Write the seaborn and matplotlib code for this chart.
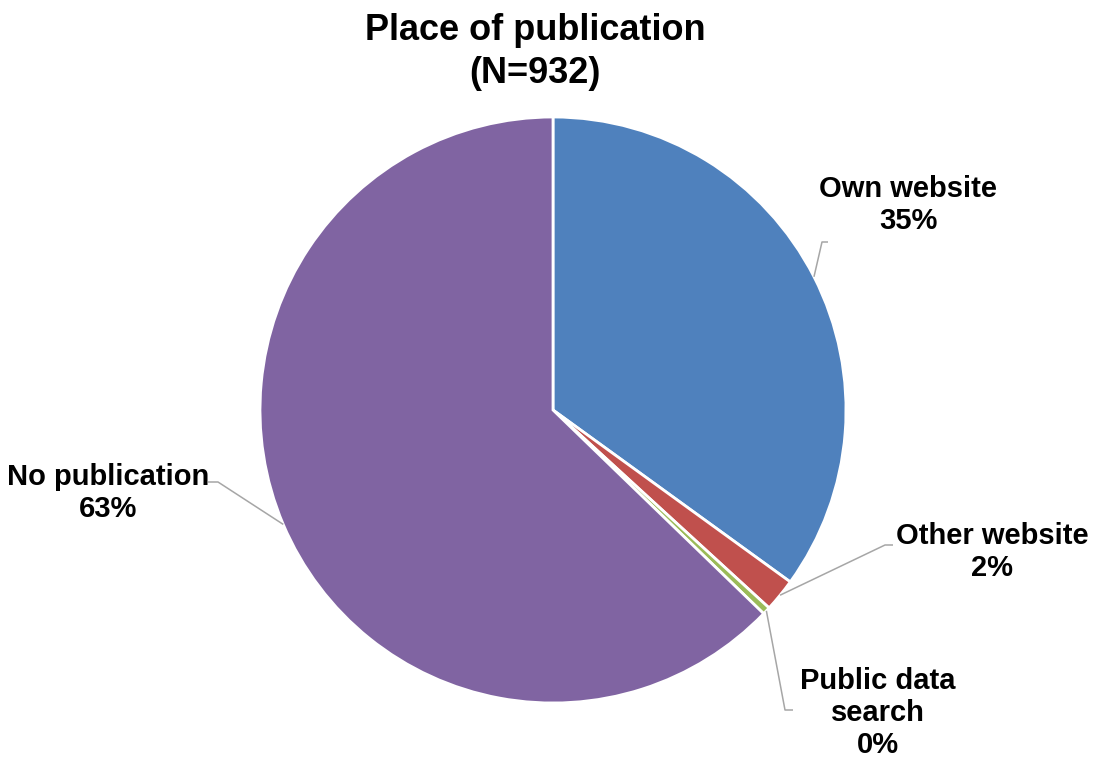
"""Pie chart: place of publication (N=932)."""

import matplotlib.pyplot as plt
import numpy as np
import seaborn as sns

sns.set_theme(style="white")
plt.rcParams["font.family"] = ["Liberation Sans", "DejaVu Sans"]

TITLE = "Place of publication\n(N=932)"
CATEGORIES = ["Own website", "Other website", "Public data\nsearch", "No publication"]
COUNTS = [326, 17, 4, 585]
COLORS = ["#4F81BD", "#C0504D", "#9BBB59", "#8064A2"]

# label anchor (text centre) and elbow of leader line, pixel coords from top-left
LABEL_POS = [(908, 205), (992, 552), (878, 713), (108, 493)]
ELBOW = [((822, 242), (828, 242)), ((885, 545), (893, 545)),
         ((785, 710), (793, 710)), ((218, 482), (208, 482))]

W, H = 1093, 762
CENTER = (553, 410)
RADIUS = 293


def main() -> None:
    fig = plt.figure(figsize=(W / 100, H / 100), dpi=100)
    ax = fig.add_axes([0, 0, 1, 1])

    cx, cy = CENTER[0], H - CENTER[1]
    wedges, _ = ax.pie(
        COUNTS,
        colors=COLORS,
        startangle=90,
        counterclock=False,
        center=(cx, cy),
        radius=RADIUS,
        wedgeprops=dict(edgecolor="white", linewidth=2),
        frame=True,
    )
    ax.set_xlim(0, W)
    ax.set_ylim(0, H)
    ax.set_aspect("equal")
    ax.axis("off")

    total = sum(COUNTS)
    for w, name, n, (tx, ty), (e1, e2) in zip(wedges, CATEGORIES, COUNTS, LABEL_POS, ELBOW):
        mid = np.deg2rad((w.theta1 + w.theta2) / 2)
        sx = cx + RADIUS * np.cos(mid)
        sy = cy + RADIUS * np.sin(mid)
        ax.plot([sx, e1[0], e2[0]], [sy, H - e1[1], H - e2[1]],
                color="#A6A6A6", lw=1.1, solid_capstyle="butt")
        pct = round(100 * n / total)
        ax.text(tx, H - ty, f"{name}\n{pct}%", ha="center", va="center",
                fontsize=21, fontweight="bold", color="black", linespacing=1.2)

    ax.text(535, H - 52, TITLE, ha="center", va="center", fontsize=26,
            fontweight="bold", color="black", linespacing=1.3)

    fig.savefig("out.png", dpi=100)
    plt.close(fig)


if __name__ == "__main__":
    main()
